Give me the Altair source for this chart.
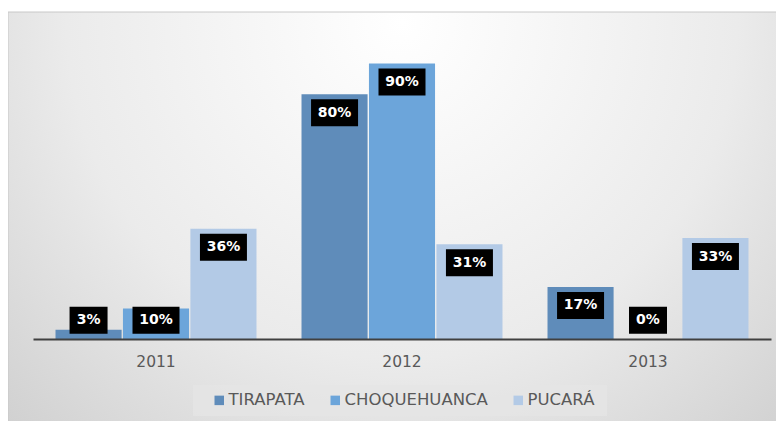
import altair as alt
import pandas as pd

years = ["2011", "2012", "2013"]
series = ["TIRAPATA", "CHOQUEHUANCA", "PUCARÁ"]
tirapata = [0.03, 0.80, 0.17]
choquehuanca = [0.10, 0.90, 0.00]
pucara = [0.36, 0.31, 0.33]
colors = ["#5F8CBA", "#6CA5DA", "#B3CAE6"]

rows = []
for name, vals in zip(series, [tirapata, choquehuanca, pucara]):
    for y, v in zip(years, vals):
        rows.append({"year": y, "serie": name, "value": v})
df = pd.DataFrame(rows)

W, H = 738, 306

xenc = alt.X("year:N", title=None, sort=years,
             scale=alt.Scale(paddingInner=0.183, paddingOuter=0.0915),
             axis=alt.Axis(labelAngle=0, ticks=False, domainColor="#404040", domainWidth=2,
                           labelColor="#595959", labelFont="DejaVu Sans", labelFontSize=15.5,
                           labelPadding=15, grid=False, zindex=2))
xoff = alt.XOffset("serie:N", sort=series, scale=alt.Scale(paddingInner=0.02))
yscale = alt.Scale(domain=[0, 1])

bg = alt.Chart(pd.DataFrame({"a": [0]})).mark_rect(
    color={"gradient": "radial", "x1": 0.5, "y1": 0.25, "r1": 0.0,
           "x2": 0.5, "y2": 0.25, "r2": 0.85,
           "stops": [{"offset": 0, "color": "#ffffff"},
                     {"offset": 0.5, "color": "#ebebeb"},
                     {"offset": 1, "color": "#c4c4c4"}]},
    stroke="#c8c8c8", strokeWidth=1, clip=False
).encode(x=alt.value(-25), x2=alt.value(W + 25), y=alt.value(-21), y2=alt.value(H + 90))

legbox = alt.Chart(pd.DataFrame({"a": [0]})).mark_rect(
    color="#e6e6e6", opacity=0.7, clip=False
).encode(x=alt.value(160), x2=alt.value(574), y=alt.value(352), y2=alt.value(383))

bars = alt.Chart(df).mark_bar().encode(
    x=xenc,
    xOffset=xoff,
    y=alt.Y("value:Q", scale=yscale, axis=None),
    color=alt.Color("serie:N", sort=series,
                    scale=alt.Scale(domain=series, range=colors),
                    legend=alt.Legend(title=None, orient="none", direction="horizontal",
                                      legendX=178, legendY=359, symbolType="square",
                                      symbolSize=90, symbolStrokeWidth=0,
                                      labelFont="DejaVu Sans", labelFontSize=16.5,
                                      labelColor="#595959", columnPadding=22,
                                      labelOffset=1)),
)

base_lbl = alt.Chart(df).transform_calculate(
    pos="max(datum.value, 0.122)",
    txt="format(datum.value, '.0%')",
    n="length(format(datum.value, '.0%'))",
)

boxes3 = base_lbl.transform_filter("datum.n >= 3").mark_bar(
    color="black", width=47, yOffset=5, y2Offset=32
).encode(x=xenc, xOffset=xoff, y=alt.Y("pos:Q", scale=yscale, axis=None), y2="pos:Q")

boxes2 = base_lbl.transform_filter("datum.n < 3").mark_bar(
    color="black", width=38, yOffset=5, y2Offset=32
).encode(x=xenc, xOffset=xoff, y=alt.Y("pos:Q", scale=yscale, axis=None), y2="pos:Q")

texts = base_lbl.mark_text(
    color="white", font="DejaVu Sans", fontWeight="bold", fontSize=14,
    baseline="middle", dy=18.5
).encode(x=xenc, xOffset=xoff, y=alt.Y("pos:Q", scale=yscale, axis=None), text="txt:N")

chart = alt.layer(bg, legbox, bars, boxes3, boxes2, texts).properties(
    width=W, height=H,
    autosize=alt.AutoSizeParams(type="none"),
    padding={"left": 25, "top": 25, "right": 5, "bottom": 82},
).configure_view(stroke=None).configure(background="white")

chart.save("out.html", embed_options={"renderer": "svg", "actions": False})
